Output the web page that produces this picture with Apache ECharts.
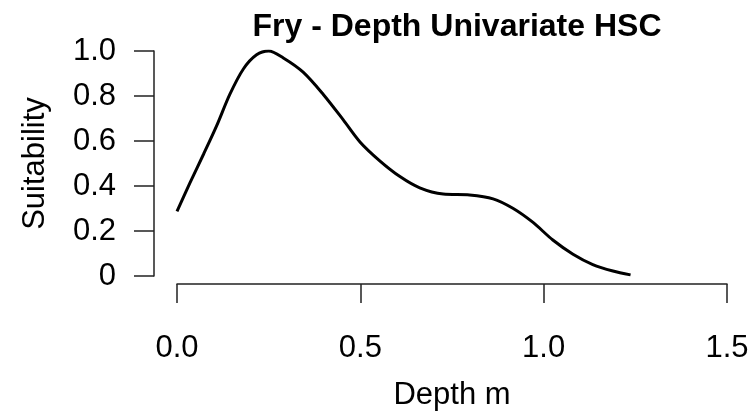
<!DOCTYPE html>
<html>
<head>
<meta charset="utf-8">
<script src="https://cdn.jsdelivr.net/npm/echarts@6/dist/echarts.min.js"></script>
<style>html,body{margin:0;padding:0;background:#fff}#c{width:752px;height:416px}</style>
</head>
<body>
<div id="c"></div>
<script>
var depth = [0, 0.035, 0.072, 0.108, 0.144, 0.181, 0.217, 0.25, 0.290, 0.344, 0.399, 0.453, 0.499, 0.553, 0.608, 0.662, 0.726, 0.798, 0.862, 0.916, 0.971, 1.025, 1.080, 1.134, 1.189, 1.237];
var suitability = [0.287, 0.413, 0.540, 0.667, 0.807, 0.920, 0.983, 1.0, 0.969, 0.906, 0.807, 0.695, 0.596, 0.512, 0.442, 0.392, 0.364, 0.360, 0.343, 0.301, 0.238, 0.160, 0.097, 0.051, 0.022, 0.005];
var xTicks = [0, 0.5, 1.0, 1.5];
var yTicks = [0, 0.2, 0.4, 0.6, 0.8, 1.0];
var titleText = 'Fry - Depth Univariate HSC';
var xName = 'Depth m';
var yName = 'Suitability';

var pts = depth.map(function(d, i){ return [d, suitability[i]]; });
var font = 'Liberation Sans, Arial, sans-serif';
var chart = echarts.init(document.getElementById('c'), null, {renderer:'canvas'});
chart.setOption({
  animation: false,
  backgroundColor: '#fff',
  title: {
    text: titleText, left: 452, textAlign: 'center', top: 6,
    textStyle: {fontFamily: font, fontSize: 32, fontWeight: 'bold', color: '#000'}
  },
  grid: {left: 177, right: 25, top: 51, bottom: 128, containLabel: false},
  xAxis: {
    type: 'value', min: 0, max: 1.5, interval: 0.5, offset: 8,
    name: xName, nameLocation: 'middle', nameGap: 96,
    nameTextStyle: {fontFamily: font, fontSize: 31, color: '#000'},
    axisLine: {show: true, onZero: false, lineStyle: {color: '#222', width: 1.5}},
    axisTick: {show: true, length: 19, lineStyle: {color: '#222', width: 1.5}},
    axisLabel: {fontFamily: font, fontSize: 31, color: '#000', margin: 49,
      formatter: function(v){ return v.toFixed(1); }},
    splitLine: {show: false}
  },
  yAxis: {
    type: 'value', min: 0, max: 1.0, interval: 0.2, offset: 23,
    name: yName, nameLocation: 'middle', nameGap: 103, nameRotate: 90,
    nameTextStyle: {fontFamily: font, fontSize: 31, color: '#000'},
    axisLine: {show: true, onZero: false, lineStyle: {color: '#222', width: 1.5}},
    axisTick: {show: true, length: 20, lineStyle: {color: '#222', width: 1.5}},
    axisLabel: {fontFamily: font, fontSize: 31, color: '#000', margin: 38,
      formatter: function(v){ return v === 0 ? '0' : v.toFixed(1); }},
    splitLine: {show: false}
  },
  series: [{
    type: 'line', data: pts, smooth: 0.3, showSymbol: false,
    lineStyle: {color: '#000', width: 3}
  }]
});
</script>
</body>
</html>
